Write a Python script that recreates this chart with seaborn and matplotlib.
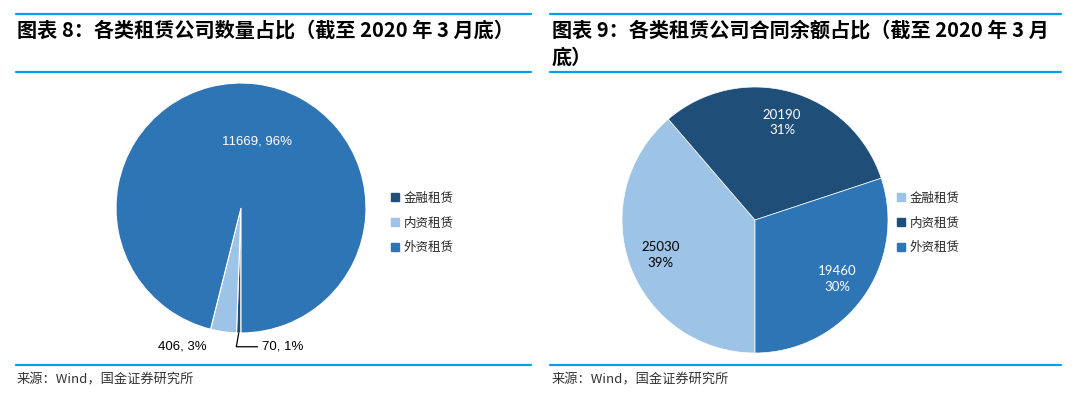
import numpy as np
import matplotlib
matplotlib.use("Agg")
import matplotlib.pyplot as plt
from matplotlib.lines import Line2D
import seaborn as sns

# data (end of March 2020)
categories = ["金融租赁", "内资租赁", "外资租赁"]
company_counts = [70, 406, 11669]
contract_balance = [25030, 20190, 19460]

title_left = "图表 8：各类租赁公司数量占比（截至 2020 年 3 月底）"
title_right = "图表 9：各类租赁公司合同余额占比（截至 2020 年 3 月\n底）"
source_text = "来源：Wind，国金证券研究所"

sns.set_theme(style="white")
plt.rcParams["font.family"] = ["Noto Sans CJK SC", "DejaVu Sans"]

dark = "#1F4E79"
mid = "#2E75B6"
light = "#9DC3E6"
rule_color = "#00A0E9"

W, H = 1080, 396
fig = plt.figure(figsize=(W / 100, H / 100), dpi=100)


def px_box(cx, cy, r):
    # axes rectangle in figure fractions for a pie centred at pixel (cx, cy)
    return [(cx - r) / W, (H - cy - r) / H, 2 * r / W, 2 * r / H]


def hline(x0, x1, y):
    fig.add_artist(Line2D([x0 / W, x1 / W], [1 - y / H, 1 - y / H],
                          color=rule_color, lw=1.6, transform=fig.transFigure))


# frame rules and titles
for x0, x1 in [(16, 531), (550, 1061)]:
    hline(x0, x1, 14)
    hline(x0, x1, 72)
    hline(x0, x1, 365)

fig.text(17 / W, 1 - 30 / H, title_left, fontsize=14.5, fontweight="bold",
         va="center", ha="left", color="black")
fig.text(552 / W, 1 - 44 / H, title_right, fontsize=14.5, fontweight="bold",
         va="center", ha="left", color="black", linespacing=1.35)
for x in (17, 552):
    fig.text(x / W, 1 - 380 / H, source_text, fontsize=9.5, color="#333333",
             va="center", ha="left")

# ---- left pie: number of companies ----
ax1 = fig.add_axes(px_box(241, 208, 125))
left_colors = [dark, light, mid]
wedges1, _ = ax1.pie(company_counts, colors=left_colors, startangle=-90,
                     counterclock=False,
                     wedgeprops=dict(edgecolor="white", linewidth=0.8))
ax1.set_xlim(-1, 1)
ax1.set_ylim(-1, 1)
ax1.set_aspect("equal")
ax1.axis("off")

total1 = sum(company_counts)
pct1 = [round(v / total1 * 100) for v in company_counts]
lab1 = [f"{v}, {p}%" for v, p in zip(company_counts, pct1)]

w = wedges1[2]
ang = np.deg2rad((w.theta1 + w.theta2) / 2)
ax1.text(0.56 * np.cos(ang) + 0.06, 0.56 * np.sin(ang) - 0.02, lab1[2],
         color="white", fontsize=9.5, family="Liberation Sans",
         ha="center", va="center")

ax1.text(-0.47, -1.11, lab1[1], color="black", fontsize=9.5,
         family="Liberation Sans", ha="center", va="center")

w = wedges1[0]
ang = np.deg2rad((w.theta1 + w.theta2) / 2)
ax1.annotate(lab1[0], xy=(np.cos(ang), np.sin(ang)), xytext=(0.17, -1.11),
             fontsize=9.5, family="Liberation Sans", color="black",
             ha="left", va="center", annotation_clip=False,
             arrowprops=dict(arrowstyle="-", color="black", lw=0.9,
                             shrinkA=1, shrinkB=0,
                             connectionstyle="angle,angleA=0,angleB=80,rad=0"))

fig.legend(handles=[plt.Rectangle((0, 0), 1, 1, color=c) for c in left_colors],
           labels=categories, loc="center left",
           bbox_to_anchor=(380 / W, 1 - 223 / H), frameon=False,
           fontsize=9, handlelength=0.6, handleheight=0.6, handletextpad=0.4,
           labelspacing=0.95)

# ---- right pie: contract balance ----
ax2 = fig.add_axes(px_box(755, 220, 133))
right_colors = [light, dark, mid]
wedges2, _ = ax2.pie(contract_balance, colors=right_colors, startangle=-90,
                     counterclock=False,
                     wedgeprops=dict(edgecolor="white", linewidth=0.5))
ax2.set_xlim(-1, 1)
ax2.set_ylim(-1, 1)
ax2.set_aspect("equal")
ax2.axis("off")

total2 = sum(contract_balance)
text_colors = ["black", "white", "white"]
for w, v, tc in zip(wedges2, contract_balance, text_colors):
    ang = np.deg2rad((w.theta1 + w.theta2) / 2)
    d = 0.76
    ax2.text(d * np.cos(ang), d * np.sin(ang),
             f"{v}\n{round(v / total2 * 100)}%", color=tc, fontsize=9.5,
             family="Lato", ha="center", va="center", linespacing=1.35)

fig.legend(handles=[plt.Rectangle((0, 0), 1, 1, color=c) for c in right_colors],
           labels=categories, loc="center left",
           bbox_to_anchor=(886 / W, 1 - 223 / H), frameon=False,
           fontsize=9, handlelength=0.6, handleheight=0.6, handletextpad=0.4,
           labelspacing=0.95)

fig.savefig("out.png", dpi=100)
